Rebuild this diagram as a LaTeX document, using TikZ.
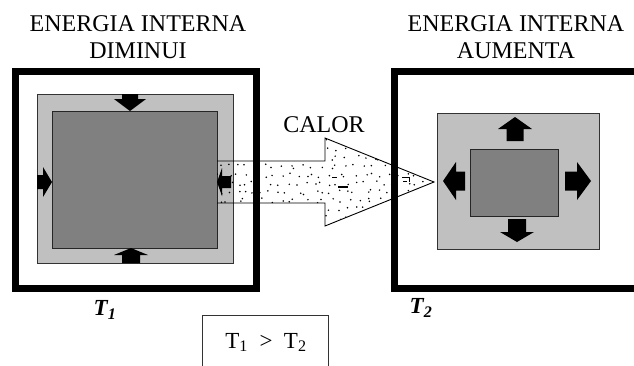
\documentclass[tikz,border=0pt]{standalone}
\usepackage{fontspec}
\setmainfont{Liberation Serif}
\newcommand\blkarrow[7]{%
  \fill[black,shift={(#1,#2)},rotate=#3]
    (0,-#6) -- (#4,-#6) -- (#4,-#7) -- (#5,0) -- (#4,#7) -- (#4,#6) -- (0,#6) -- cycle;}
\tikzset{
  frame/.style={draw=black,line width=7pt},
  lightbox/.style={fill=lgray,draw=black!80,line width=0.9pt},
  darkbox/.style={fill=dgray,draw=black!85,line width=0.9pt},
  title/.style={font=\fontsize{24}{27}\selectfont,align=center,inner sep=0pt},
  tlabel/.style={font=\fontsize{23}{25}\selectfont\bfseries\itshape,inner sep=0pt},
}
\definecolor{lgray}{HTML}{C0C0C0}
\definecolor{dgray}{HTML}{808080}
\begin{document}
\begin{tikzpicture}[x=1pt,y=-1pt]
\clip (0,0) rectangle (634,365);
\fill[white] (0,0) rectangle (634,365);
% left system
\draw[lightbox] (37,94) rectangle (233,263);
\draw[darkbox] (52,111) rectangle (217,248);
% right system
\draw[lightbox] (437,113) rectangle (599,249);
\draw[darkbox] (470,149) rectangle (558,216);
% heat arrow: dots
\begin{scope}
  \clip (217,161) -- (325,161) -- (325,138) -- (434,182) -- (325,226) -- (325,203) -- (217,203) -- cycle;
  \pgfmathsetseed{11}
  \foreach \gx in {220,228.5,...,434}{
    \foreach \gy in {141,149.5,...,226}{
      \pgfmathsetmacro\rx{\gx+4.5*rand}
      \pgfmathsetmacro\ry{\gy+2.5*rand}
      \fill[black] (\rx,\ry) circle (0.85pt);
    }
  }
  \draw[black,line width=1pt] (332,177) -- (337,177);
  \draw[black,line width=1.2pt] (338,187) -- (348,187);
  \draw[black,line width=0.8pt] (402,177) -- (409,177) -- (409,182) (403,181) -- (407,181);
\end{scope}
\draw[black,line width=0.9pt] (217,161) -- (325,161) -- (325,138) -- (434,182) -- (325,226) -- (325,203) -- (217,203);
% left arrows (inward)
\blkarrow{130}{94}{-90}{5}{17}{8}{16}
\blkarrow{131}{263}{90}{8}{15}{9}{17}
\blkarrow{37}{182}{0}{6}{15}{7}{15}
\blkarrow{231}{182}{180}{9}{14}{6}{14}
% right arrows (outward)
\blkarrow{515}{141}{90}{12}{24}{8.5}{17}
\blkarrow{517}{219}{-90}{13}{23}{9}{17}
\blkarrow{465}{181}{180}{9}{22}{9.5}{19}
\blkarrow{565}{181}{0}{12}{26}{9.5}{19}
% frames
\draw[frame] (15.5,71.5) rectangle (256.5,288.5);
\draw[frame] (394.5,71.5) rectangle (680,288.5);
% texts
\node[title] (lt) at (138,37) {ENERGIA INTERNA\\DIMINUI};
\node[title] (rt) at (516,37) {ENERGIA INTERNA\\AUMENTA};
\node[font=\fontsize{24}{27}\selectfont,inner sep=0pt] (calor) at (324,125) {CALOR};
\node[tlabel] (t1) at (105,310) {T\textsubscript{1}};
\node[tlabel] (t2) at (421,308) {T\textsubscript{2}};
\node[draw=black!80,line width=0.9pt,minimum width=126pt,minimum height=60pt,anchor=north west,inner sep=0pt] (cmp) at (202,315) {};
\node[font=\fontsize{23}{26}\selectfont,inner sep=0pt,anchor=base] (ctext) at (266,348) {T\textsubscript{1}\ \ >\ \ T\textsubscript{2}};
\end{tikzpicture}
\end{document}
